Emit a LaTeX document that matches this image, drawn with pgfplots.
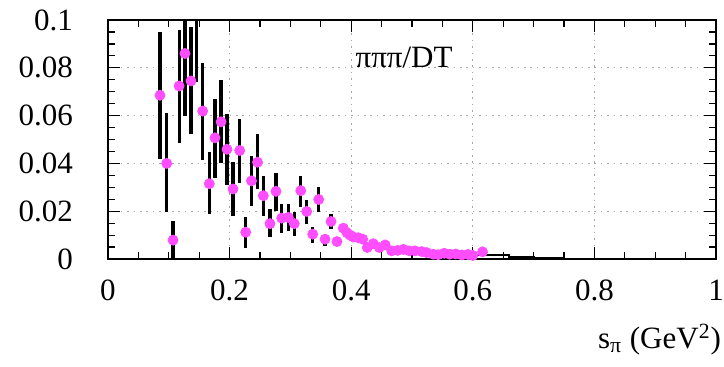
\documentclass[border=0pt]{standalone}
\usepackage{pgfplots}
\pgfplotsset{compat=1.18}
\usepackage{pgfplotstable}
\usepackage{fontspec}
\setmainfont{Liberation Serif}
\newcommand\myfont{\fontsize{15.5}{18}\selectfont}
\definecolor{mag}{RGB}{255,77,255}

\pgfplotstableread{
x y ep em
0.0855 0.0685 0.0265 0.0265
0.0965 0.0400 0.0210 0.0205
0.1070 0.0079 0.0081 0.0079
0.1170 0.0724 0.0236 0.0239
0.1266 0.0860 0.0250 0.0260
0.1365 0.0745 0.0225 0.0220
0.1460 0.1080 0.0300 0.0340
0.1557 0.0619 0.0201 0.0204
0.1666 0.0315 0.0132 0.0127
0.1760 0.0507 0.0163 0.0167
0.1860 0.0574 0.0174 0.0174
0.1957 0.0459 0.0149 0.0149
0.2056 0.0293 0.0112 0.0113
0.2166 0.0454 0.0133 0.0134
0.2265 0.0112 0.0062 0.0065
0.2360 0.0327 0.0106 0.0104
0.2459 0.0405 0.0117 0.0112
0.2555 0.0265 0.0084 0.0085
0.2664 0.0148 0.0061 0.0058
0.2763 0.0283 0.0075 0.0081
0.2857 0.0171 0.0059 0.0061
0.2966 0.0174 0.0056 0.0056
0.3064 0.0148 0.0047 0.0051
0.3170 0.0286 0.0063 0.0070
0.3268 0.0199 0.0048 0.0051
0.3367 0.0104 0.0028 0.0035
0.3465 0.0249 0.0051 0.0054
0.3570 0.0083 0.0018 0.0028
0.3668 0.0157 0.0031 0.0032
0.3766 0.0073 0.0017 0.0018
0.3870 0.0129 0.0019 0.0025
0.3930 0.0110 0.0015 0.0015
0.3980 0.0100 0.0012 0.0012
0.4035 0.0092 0.0012 0.0012
0.4117 0.0089 0.0010 0.0010
0.4190 0.0083 0.0010 0.0010
0.4265 0.0048 0.0010 0.0010
0.4364 0.0064 0.0010 0.0010
0.4463 0.0048 0.0008 0.0008
0.4560 0.0059 0.0008 0.0008
0.4666 0.0034 0.0008 0.0008
0.4765 0.0036 0.0008 0.0008
0.4858 0.0040 0.0008 0.0008
0.4957 0.0034 0.0007 0.0007
0.5050 0.0034 0.0007 0.0007
0.5160 0.0031 0.0007 0.0007
0.5240 0.0027 0.0006 0.0006
0.5350 0.0020 0.0006 0.0006
0.5430 0.0018 0.0006 0.0006
0.5530 0.0024 0.0006 0.0006
0.5620 0.0020 0.0006 0.0006
0.5720 0.0021 0.0006 0.0006
0.5820 0.0017 0.0005 0.0005
0.5920 0.0019 0.0005 0.0005
0.6000 0.0015 0.0005 0.0005
0.6160 0.0030 0.0005 0.0005
}\datatable

\begin{document}
\begin{tikzpicture}
\useasboundingbox (-54pt,-53.5pt) rectangle (308pt,129.5pt);
\begin{axis}[
  at={(0,0)}, anchor=south west,
  scale only axis,
  width=304pt, height=119.5pt,
  xmin=0, xmax=1, ymin=0, ymax=0.1,
  xtick={0,0.2,0.4,0.6,0.8,1},
  xticklabels={0,0.2,0.4,0.6,0.8,1},
  ytick={0,0.02,0.04,0.06,0.08,0.1},
  yticklabels={0,0.02,0.04,0.06,0.08,0.1},
  minor x tick num=3, minor y tick num=3,
  tick align=inside,
  major tick length=6pt, minor tick length=3.5pt,
  every tick/.style={black, line width=0.6pt},
  axis line style={line width=1.4pt},
  ticklabel style={font=\myfont},
  yticklabel style={xshift=-14pt},
  xticklabel style={yshift=-7pt},
  grid=major,
  major grid style={gray!70, line width=0.5pt, dash pattern=on 0.8pt off 2.4pt},
  xlabel={s\textsubscript{π} (GeV\textsuperscript{2})},
  xlabel style={font=\myfont, at={(axis description cs:1,-0.375)}, anchor=base east, xshift=6pt},
  clip=true,
]
\addplot[const plot, black, line width=1pt] coordinates {
(0,0) (0.55,0.0012) (0.60,0.0015) (0.66,0.0008) (0.70,0.0004) (0.75,0.0002) (0.80,0.0001) (0.90,0) (1,0)
};
\addplot[draw=none, mark=none, black,
  error bars/.cd, y dir=both, y explicit,
  error bar style={line width=1.6pt, black}, error mark=none]
  table[x=x, y=y, y error plus=ep, y error minus=em] {\datatable};
\addplot[only marks, mark=*, mark size=2.5pt, mark options={fill=mag, draw=mag}]
  table[x=x, y=y] {\datatable};
\node[font=\myfont, anchor=base] at (axis cs:0.487,0.0803) {πππ/DT};
\end{axis}
\end{tikzpicture}
\end{document}
